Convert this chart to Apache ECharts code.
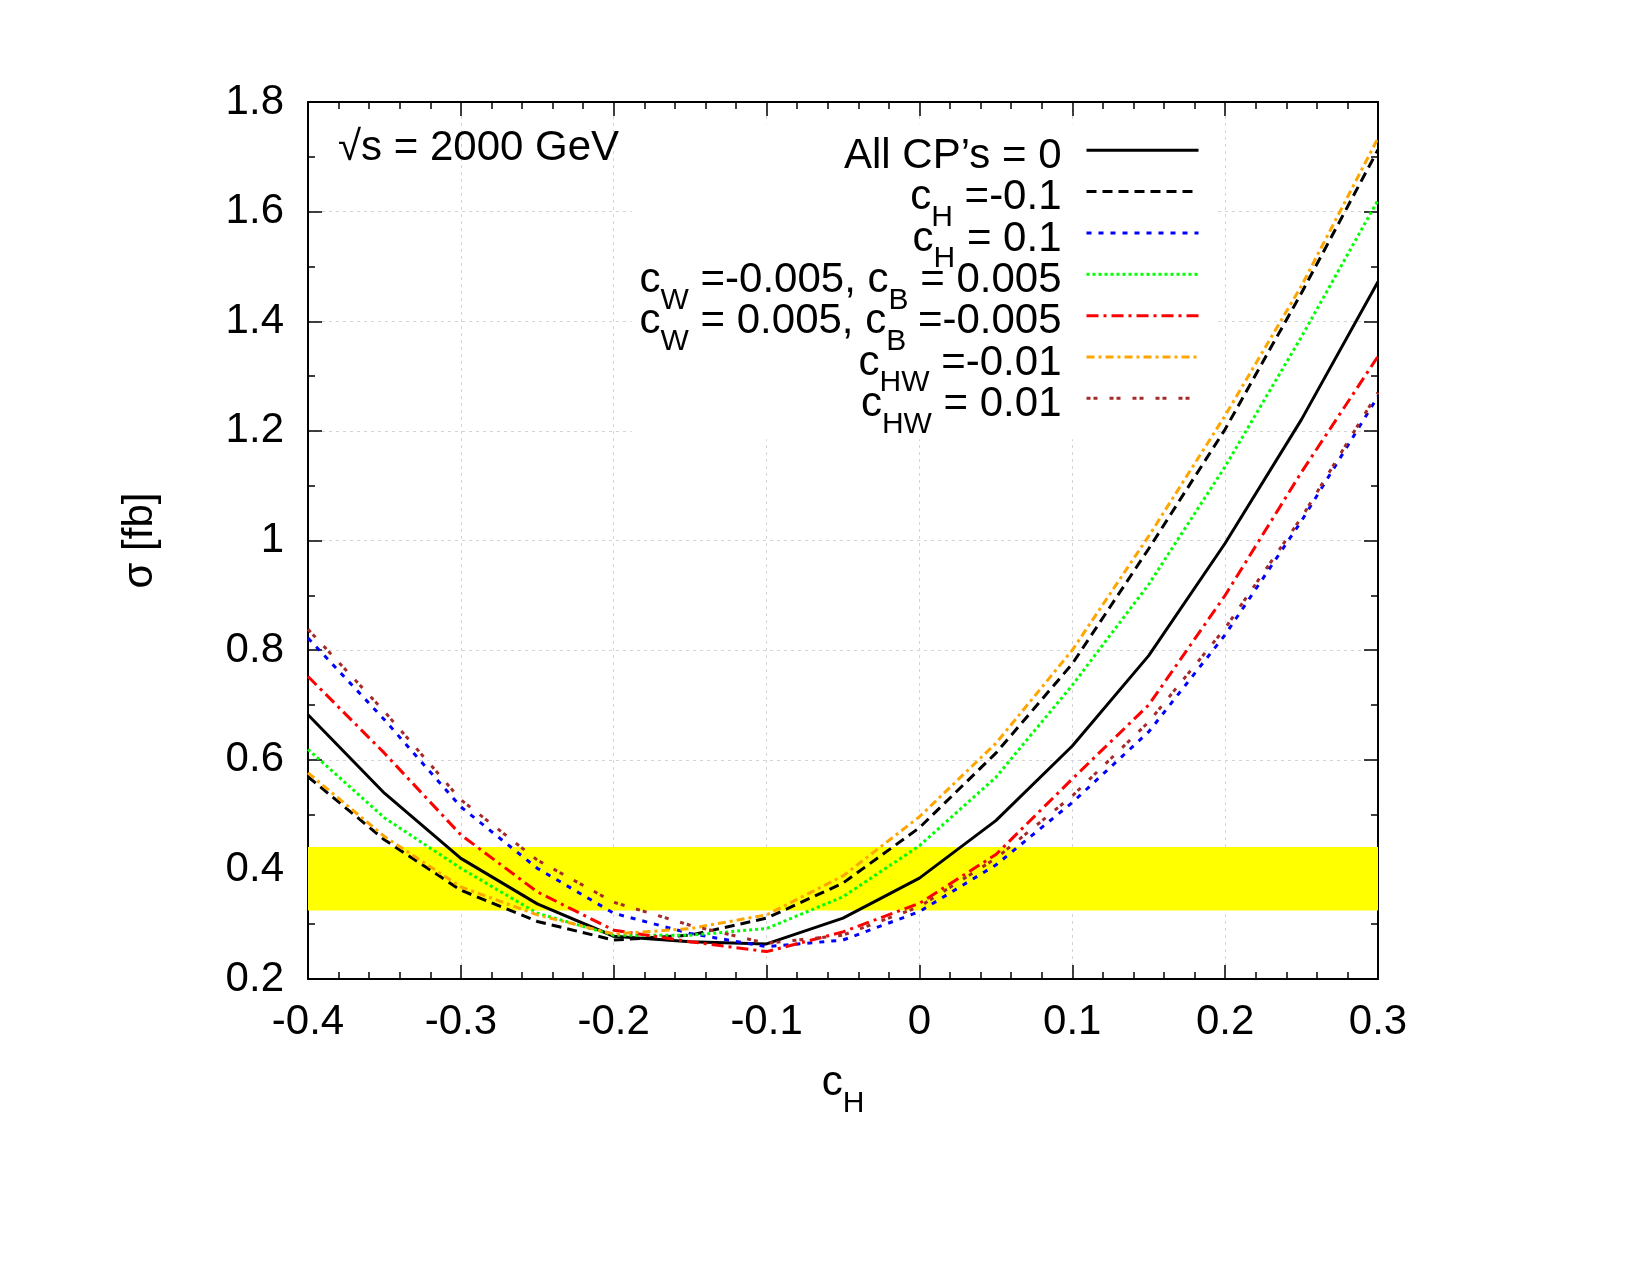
<!DOCTYPE html>
<html>
<head>
<meta charset="utf-8">
<script src="https://cdn.jsdelivr.net/npm/echarts@6/dist/echarts.min.js"></script>
<style>
html,body{margin:0;padding:0;background:#fff;}
#chart{width:1650px;height:1275px;}
</style>
</head>
<body>
<div id="chart"></div>
<script>
// x values (c_H)
const cH = [-0.4, -0.35, -0.3, -0.25, -0.2, -0.15, -0.1, -0.05, 0, 0.05, 0.1, 0.15, 0.2, 0.25, 0.3];
// cross sections [fb]
const allZero = [0.682, 0.539, 0.420, 0.337, 0.278, 0.268, 0.264, 0.311, 0.384, 0.489, 0.625, 0.790, 0.995, 1.221, 1.472];
const cHminus = [0.569, 0.454, 0.362, 0.305, 0.271, 0.280, 0.311, 0.375, 0.476, 0.612, 0.775, 0.985, 1.203, 1.452, 1.713];
const cHplus  = [0.822, 0.673, 0.514, 0.402, 0.320, 0.283, 0.259, 0.271, 0.323, 0.408, 0.522, 0.651, 0.828, 1.036, 1.263];
const cWminus = [0.619, 0.494, 0.402, 0.320, 0.280, 0.280, 0.292, 0.350, 0.443, 0.568, 0.736, 0.920, 1.135, 1.372, 1.621];
const cWplus  = [0.752, 0.612, 0.463, 0.359, 0.289, 0.268, 0.250, 0.286, 0.338, 0.427, 0.565, 0.700, 0.900, 1.125, 1.336];
const cHWminus = [0.576, 0.460, 0.368, 0.317, 0.282, 0.292, 0.317, 0.388, 0.496, 0.630, 0.800, 1.008, 1.228, 1.465, 1.734];
const cHWplus  = [0.838, 0.688, 0.527, 0.417, 0.340, 0.298, 0.265, 0.280, 0.332, 0.420, 0.534, 0.669, 0.840, 1.042, 1.270];
// yellow band (measured range)
const band = [0.325, 0.441];

const seriesNames = ['All', 'cHm', 'cHp', 'cWm', 'cWp', 'cHWm', 'cHWp'];
const legendLabels = [
  '{s|\u200b}{n|All CP’s = 0}',
  '{n|c}{s|H}{n| =-0.1}',
  '{n|c}{s|H}{n| = 0.1}',
  '{n|c}{s|W}{n| =-0.005, c}{s|B}{n| = 0.005}',
  '{n|c}{s|W}{n| = 0.005, c}{s|B}{n| =-0.005}',
  '{n|c}{s|HW}{n| =-0.01}',
  '{n|c}{s|HW}{n| = 0.01}'
];
const seriesValues = [allZero, cHminus, cHplus, cWminus, cWplus, cHWminus, cHWplus];
const colors = ['#000000', '#000000', '#0000ff', '#00ff00', '#ff0000', '#ffa500', '#a52a2a'];
const dashes = ['solid', [10, 6], [5, 7], [3, 3], [12, 5, 3, 5], [8, 4, 3, 4], [4, 3, 4, 12]];

const FONT = 'Liberation Sans, Arial, Helvetica, sans-serif';
const FS = 42;
const richLegend = {
  n: {fontSize: FS, fontFamily: FONT, color: '#000', lineHeight: 41.7, height: 41.7, padding: [12, 0, 0, 0]},
  s: {fontSize: 30, fontFamily: FONT, color: '#000', lineHeight: 41.7, height: 1.7, padding: [52, 0, 0, 0]}
};
const richName = {
  n: {fontSize: FS, fontFamily: FONT, color: '#000', lineHeight: 41.7, height: 41.7},
  s: {fontSize: 30, fontFamily: FONT, color: '#000', lineHeight: 41.7, height: 1.7, padding: [40, 0, 0, 0]}
};

const chart = echarts.init(document.getElementById('chart'), null, {renderer: 'canvas'});

const axisCommon = {
  type: 'value',
  axisLine: {show: true, onZero: false, lineStyle: {color: '#000', width: 2}},
  axisTick: {show: true, inside: true, length: 14, lineStyle: {color: '#000', width: 1.5}},
  minorTick: {show: true, length: 7, lineStyle: {color: '#000', width: 1.5}},
  minorSplitLine: {show: false}
};

const series = seriesValues.map((vals, i) => ({
  name: seriesNames[i],
  type: 'line',
  xAxisIndex: 0,
  yAxisIndex: 0,
  symbol: 'none',
  z: 6,
  data: cH.map((x, j) => [x, vals[j]]),
  lineStyle: {color: colors[i], width: 3, type: dashes[i]},
  itemStyle: {color: colors[i]},
  animation: false
}));
series.unshift({
  name: 'band',
  type: 'line',
  data: [],
  symbol: 'none',
  z: 1,
  markArea: {
    silent: true,
    z: 1,
    itemStyle: {color: '#ffff00', opacity: 1},
    data: [[{xAxis: cH[0], yAxis: band[0]}, {xAxis: cH[cH.length - 1], yAxis: band[1]}]]
  },
  animation: false
});

chart.setOption({
  backgroundColor: '#fff',
  animation: false,
  textStyle: {fontFamily: FONT},
  title: {
    text: '√s = 2000 GeV',
    left: 338,
    top: 127,
    padding: 0,
    textStyle: {fontSize: 42, fontWeight: 'normal', color: '#000', fontFamily: FONT}
  },
  grid: {left: 308, top: 102, width: 1070, height: 877, containLabel: false},
  legend: {
    data: seriesNames,
    orient: 'vertical',
    right: 432,
    top: 123.4,
    z: 4,
    align: 'right',
    itemWidth: 112,
    itemHeight: 14,
    itemGap: -26.5,
    selectedMode: false,
    backgroundColor: '#ffffff',
    padding: [0, 18, 0, 8],
    lineStyle: {width: 3},
    itemStyle: {opacity: 0},
    formatter: function (name) { return legendLabels[seriesNames.indexOf(name)]; },
    textStyle: {fontSize: FS, fontFamily: FONT, color: '#000', width: 515, padding: [0, 20, 0, 0], rich: richLegend}
  },
  xAxis: [
    Object.assign({}, axisCommon, {
      position: 'bottom', min: -0.4, max: 0.3, interval: 0.1,
      minorTick: Object.assign({}, axisCommon.minorTick, {splitNumber: 5}),
      axisLabel: {margin: 22, fontSize: FS, color: '#000', fontFamily: FONT,
        formatter: v => String(+v.toFixed(1))},
      splitLine: {show: true, lineStyle: {color: '#d4d4d4', width: 1, type: [3, 4]}},
      name: '{n|c}{s|H}',
      nameLocation: 'middle',
      nameGap: 84,
      nameTextStyle: {rich: richName}
    }),
    Object.assign({}, axisCommon, {
      position: 'top', min: -0.4, max: 0.3, interval: 0.1,
      minorTick: Object.assign({}, axisCommon.minorTick, {splitNumber: 5}),
      axisLabel: {show: false}, splitLine: {show: false}
    })
  ],
  yAxis: [
    Object.assign({}, axisCommon, {
      position: 'left', min: 0.2, max: 1.8, interval: 0.2,
      minorTick: Object.assign({}, axisCommon.minorTick, {splitNumber: 2}),
      axisLabel: {margin: 24, fontSize: FS, color: '#000', fontFamily: FONT,
        formatter: v => String(+v.toFixed(1))},
      splitLine: {show: true, lineStyle: {color: '#d4d4d4', width: 1, type: [3, 4]}},
      name: 'σ [fb]',
      nameLocation: 'middle',
      nameRotate: 90,
      nameGap: 147,
      nameTextStyle: {fontSize: FS, color: '#000', fontFamily: FONT}
    }),
    Object.assign({}, axisCommon, {
      position: 'right', min: 0.2, max: 1.8, interval: 0.2,
      minorTick: Object.assign({}, axisCommon.minorTick, {splitNumber: 2}),
      axisLabel: {show: false}, splitLine: {show: false}
    })
  ],
  series: series
});
</script>
</body>
</html>
